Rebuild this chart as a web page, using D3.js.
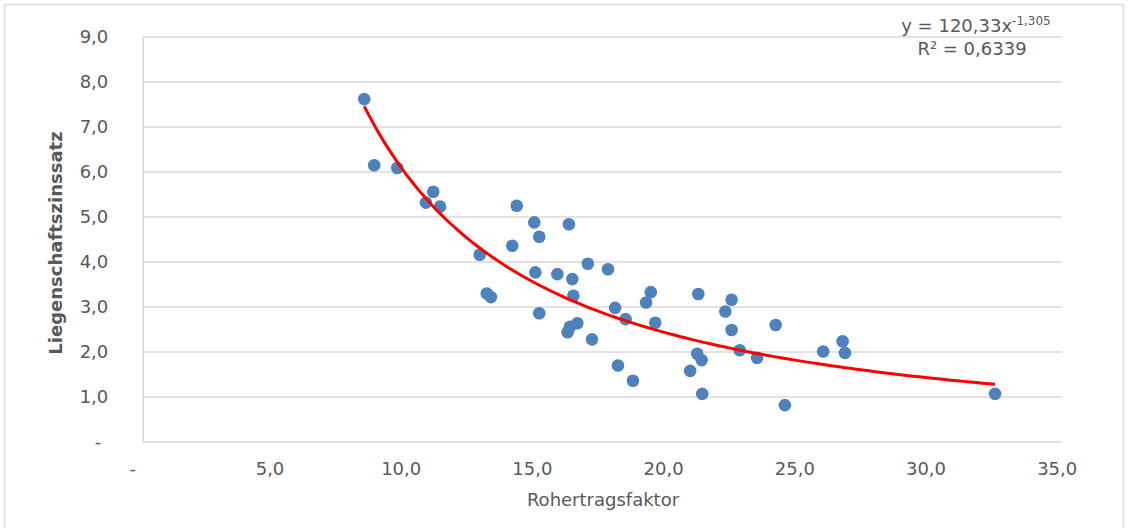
<!DOCTYPE html>
<html>
<head>
<meta charset="utf-8">
<script src="https://cdn.jsdelivr.net/npm/d3@7"></script>
<style>
  body { margin: 0; background: #fff; }
  text { font-family: "DejaVu Sans", Verdana, sans-serif; fill: #595959; }
  .tick-label { font-size: 18px; }
</style>
</head>
<body>
<svg></svg>
<script>
const width = 1134;
const height = 528;
const margin = { top: 37, right: 72.3, bottom: 86, left: 143.3 };

// Rohertragsfaktor (x) und Liegenschaftszinssatz (y)
const rohertragsfaktor = [
  8.42, 8.80, 9.68, 11.05, 10.77, 11.31, 14.23, 14.90, 15.09, 14.06,
  12.82, 14.94, 15.78, 13.09, 13.25, 15.09, 16.22, 16.35, 16.94, 17.71,
  16.39, 16.54, 16.26, 16.17, 17.10, 17.98, 18.38, 19.34, 19.16, 19.51,
  18.09, 18.66, 20.84, 21.15, 22.42, 22.18, 22.42, 24.10, 22.73, 23.39,
  21.11, 21.28, 21.30, 24.45, 25.91, 26.65, 26.74, 32.46
];
const liegenschaftszinssatz = [
  7.62, 6.15, 6.09, 5.56, 5.32, 5.23, 5.25, 4.88, 4.56, 4.36,
  4.16, 3.77, 3.73, 3.30, 3.22, 2.86, 4.84, 3.62, 3.96, 3.84,
  3.25, 2.64, 2.56, 2.44, 2.28, 2.98, 2.73, 3.33, 3.10, 2.65,
  1.70, 1.36, 1.58, 3.29, 3.16, 2.90, 2.49, 2.60, 2.04, 1.87,
  1.96, 1.82, 1.07, 0.82, 2.01, 2.24, 1.98, 1.07
];

const xTicks = [0, 5, 10, 15, 20, 25, 30, 35];
const yTicks = [0, 1, 2, 3, 4, 5, 6, 7, 8, 9];

// Potenz-Trendlinie laut Diagramm: y = 120,33 x^-1,305
const trendA = 120.33;
const trendB = -1.305;
const trendR2 = "0,6339";

const de = d3.formatLocale({ decimal: ",", thousands: ".", grouping: [3], currency: ["", " €"] });
const fmt = d => (d === 0 ? "-" : de.format(".1f")(d));

const svg = d3.select("svg").attr("width", width).attr("height", height);

// Rahmen des Diagramms
svg.append("rect")
  .attr("x", 4.5).attr("y", 4.5)
  .attr("width", 1119).attr("height", 540)
  .attr("fill", "none")
  .attr("stroke", "#d9d9d9")
  .attr("stroke-width", 1.5);

const x = d3.scaleLinear()
  .domain([0, 35])
  .range([margin.left, width - margin.right]);

const y = d3.scaleLinear()
  .domain([0, 9])
  .range([height - margin.bottom, margin.top]);

// Gitterlinien
svg.append("g")
  .selectAll("line")
  .data(yTicks.slice(1))
  .join("line")
  .attr("x1", x(0)).attr("x2", x(35))
  .attr("y1", d => y(d)).attr("y2", d => y(d))
  .attr("stroke", "#d9d9d9")
  .attr("stroke-width", 1.3);

// Achsenlinien
svg.append("line")
  .attr("x1", x(0)).attr("x2", x(35))
  .attr("y1", y(0)).attr("y2", y(0))
  .attr("stroke", "#d9d9d9").attr("stroke-width", 1.5);
svg.append("line")
  .attr("x1", x(0)).attr("x2", x(0))
  .attr("y1", y(0)).attr("y2", y(9))
  .attr("stroke", "#d9d9d9").attr("stroke-width", 1.5);

// X-Achse
const xAxis = svg.append("g")
  .attr("transform", `translate(0, ${y(0)})`)
  .call(d3.axisBottom(x).tickValues(xTicks).tickFormat(fmt).tickSize(0).tickPadding(20));
xAxis.select(".domain").remove();
xAxis.selectAll("text")
  .attr("class", "tick-label")
  .attr("dx", d => (d === 0 ? -11 : -5));

// Y-Achse
const yAxis = svg.append("g")
  .attr("transform", `translate(${x(0)}, 0)`)
  .call(d3.axisLeft(y).tickValues(yTicks).tickFormat(fmt).tickSize(0).tickPadding(35));
yAxis.select(".domain").remove();
yAxis.selectAll("text")
  .attr("class", "tick-label")
  .attr("dx", d => (d === 0 ? -7 : 0));

// Achsentitel
svg.append("text")
  .attr("x", 603)
  .attr("y", 506)
  .attr("text-anchor", "middle")
  .style("font-size", "18px")
  .text("Rohertragsfaktor");

svg.append("text")
  .attr("transform", "rotate(-90)")
  .attr("x", -243)
  .attr("y", 62)
  .attr("text-anchor", "middle")
  .style("font-size", "18px")
  .style("font-weight", "bold")
  .text("Liegenschaftszinssatz");

// Punkte
const punkte = rohertragsfaktor.map((v, i) => ({ x: v, y: liegenschaftszinssatz[i] }));
svg.append("g")
  .selectAll("circle")
  .data(punkte)
  .join("circle")
  .attr("cx", d => x(d.x))
  .attr("cy", d => y(d.y))
  .attr("r", 6.3)
  .attr("fill", "#4f81bd");

// Trendlinie
const [xMin, xMax] = d3.extent(rohertragsfaktor);
const trend = d3.range(0, 101).map(i => {
  const xv = xMin + (xMax - xMin) * i / 100;
  return { x: xv, y: trendA * Math.pow(xv, trendB) };
});
svg.append("path")
  .datum(trend)
  .attr("fill", "none")
  .attr("stroke", "#ff0000")
  .attr("stroke-width", 3)
  .attr("d", d3.line().x(d => x(d.x)).y(d => y(d.y)));

// Gleichung
const eq = svg.append("text")
  .attr("x", 976)
  .attr("y", 32)
  .attr("text-anchor", "middle")
  .style("font-size", "18px");
eq.append("tspan").text("y = 120,33x");
eq.append("tspan").attr("dy", -7).style("font-size", "12px").text("-1,305");

svg.append("text")
  .attr("x", 972)
  .attr("y", 55)
  .attr("text-anchor", "middle")
  .style("font-size", "18px")
  .text(`R² = ${trendR2}`);
</script>
</body>
</html>
